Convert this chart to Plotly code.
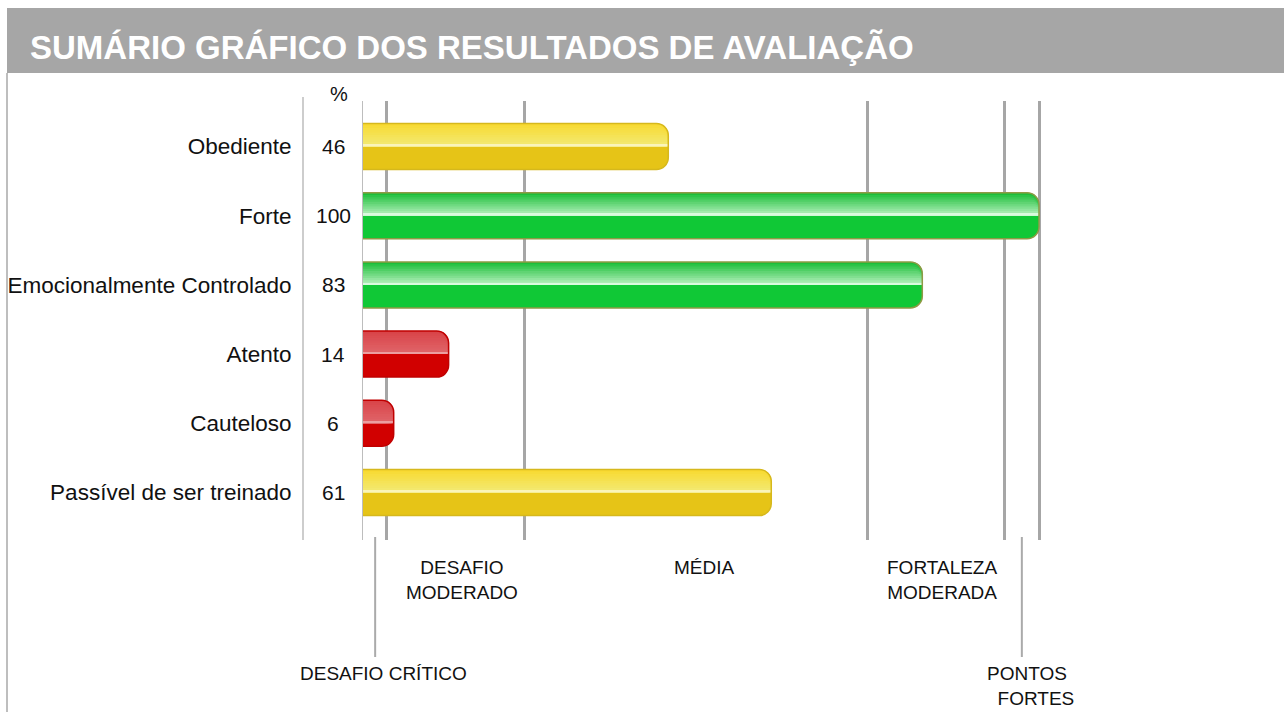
import plotly.graph_objects as go

# ---------------- data ----------------
categories = ["Obediente", "Forte", "Emocionalmente Controlado", "Atento",
              "Cauteloso", "Passível de ser treinado"]
scores = [46, 100, 83, 14, 6, 61]
band_edges = [5, 25, 75, 95, 100]
band_labels = ["DESAFIO CRÍTICO", "DESAFIO<br>MODERADO", "MÉDIA",
               "FORTALEZA<br>MODERADA", "PONTOS<br>\u00a0\u00a0FORTES"]
title_text = "SUMÁRIO GRÁFICO DOS RESULTADOS DE AVALIAÇÃO"

# ---------------- layout constants ----------------
W_PX, H_PX = 1284, 712
L, R, T, B = 363, 1044, 101, 540          # plot area in pixels
X0_PX, X_SCALE = 352.5, 6.865             # pixel of value 0, px per unit
x_range = [(L - X0_PX) / X_SCALE, (R - X0_PX) / X_SCALE]
y_range = [5.686, -0.657]

def px_x(p):
    return (p - L) / (R - L)

def px_y(p):
    return (B - p) / (B - T)

FONT = "Arial, Liberation Sans, sans-serif"

palette = {
    "red":    dict(base="#D10000", top="#D94449", mid="#E0666A",
                   hl="#EC9EA0", line="#C00000"),
    "yellow": dict(base="#E6C417", top="#F8DA32", mid="#F2EA74",
                   hl="#FAF4BA", line="#D6B81C"),
    "green":  dict(base="#10C836", top="#1CBE39", mid="#B4F0BC",
                   hl="#DAFADE", line="#8E9A44"),
}

def group(v):
    if v < band_edges[1]:
        return "red"
    if v < band_edges[2]:
        return "yellow"
    return "green"

def mix(c1, c2, t):
    a = [int(c1[i:i + 2], 16) for i in (1, 3, 5)]
    b = [int(c2[i:i + 2], 16) for i in (1, 3, 5)]
    return "#" + "".join("%02X" % round(a[k] + (b[k] - a[k]) * t) for k in range(3))

groups = [group(v) for v in scores]

Wd = 0.665
N_STEPS = 10

fig = go.Figure()
# base (bottom colour, full height)
fig.add_trace(go.Bar(
    x=scores, y=categories, orientation="h",
    offset=-Wd / 2, width=Wd,
    marker=dict(color=[palette[g]["base"] for g in groups],
                line=dict(width=0), cornerradius=12),
    hovertemplate="%{y}: %{x}<extra></extra>", showlegend=False,
))
# gradient bands in the upper half
for k in range(N_STEPS, 0, -1):
    t = (N_STEPS - k) / (N_STEPS - 1)
    h = (Wd / 2) * k / N_STEPS
    fig.add_trace(go.Bar(
        x=scores, y=categories, orientation="h",
        offset=-h, width=h,
        marker=dict(color=[mix(palette[g]["top"], palette[g]["mid"], t) for g in groups],
                    line=dict(width=0), cornerradius=12),
        hoverinfo="skip", showlegend=False,
    ))
# highlight line at the middle
fig.add_trace(go.Bar(
    x=scores, y=categories, orientation="h",
    offset=-Wd * 0.04, width=Wd * 0.04,
    marker=dict(color=[palette[g]["hl"] for g in groups],
                line=dict(width=0), cornerradius=12),
    hoverinfo="skip", showlegend=False,
))
# outline
fig.add_trace(go.Bar(
    x=scores, y=categories, orientation="h",
    offset=-Wd / 2, width=Wd,
    marker=dict(color="rgba(0,0,0,0)",
                line=dict(width=1.5, color=[palette[g]["line"] for g in groups]),
                cornerradius=12),
    hoverinfo="skip", showlegend=False,
))

shapes = [
    # header band
    dict(type="rect", xref="paper", yref="paper",
         x0=px_x(7), x1=px_x(1290), y0=px_y(73), y1=px_y(8),
         fillcolor="#A6A6A6", line=dict(width=0), layer="below"),
    # left frame line
    dict(type="line", xref="paper", yref="paper",
         x0=px_x(7), x1=px_x(7), y0=px_y(73), y1=px_y(715),
         line=dict(color="#BEBEBE", width=2)),
    # separator between labels and numbers
    dict(type="line", xref="paper", yref="paper",
         x0=px_x(303), x1=px_x(303), y0=px_y(97), y1=px_y(540),
         line=dict(color="#BDBDBD", width=1.5)),
    # pointers
    dict(type="line", xref="x", yref="paper", x0=3.3, x1=3.3,
         y0=px_y(537), y1=px_y(657), line=dict(color="#AAAAAA", width=2)),
    dict(type="line", xref="x", yref="paper", x0=97.5, x1=97.5,
         y0=px_y(537), y1=px_y(657), line=dict(color="#AAAAAA", width=2)),
]

annotations = []
# values column
for c, v in zip(categories, scores):
    annotations.append(dict(xref="paper", yref="y", x=px_x(333), y=c,
                            text=str(v), showarrow=False, xanchor="center",
                            yanchor="middle",
                            font=dict(family=FONT, size=21, color="#111111")))
annotations.append(dict(xref="paper", yref="paper", x=px_x(339), y=px_y(94),
                        text="%", showarrow=False, xanchor="center",
                        yanchor="middle",
                        font=dict(family=FONT, size=20, color="#111111")))
# band labels
label_pos = [(4.5, 673, "middle", "center", "center"),
             (16.0, 555, "top", "center", "center"),
             (51.3, 555, "top", "center", "center"),
             (85.9, 555, "top", "center", "center"),
             ((985 - X0_PX) / X_SCALE, 661, "top", "left", "left")]
for txt, (xv, yp, ya, xa, al) in zip(band_labels, label_pos):
    annotations.append(dict(xref="x", yref="paper", x=xv, y=px_y(yp),
                            text=txt, showarrow=False, xanchor=xa, yanchor=ya,
                            align=al,
                            font=dict(family=FONT, size=19, color="#111111")))

fig.update_layout(
    width=W_PX, height=H_PX,
    margin=dict(l=L, r=W_PX - R, t=T, b=H_PX - B, autoexpand=False),
    paper_bgcolor="white", plot_bgcolor="white",
    barmode="overlay",
    title=dict(text="<b>" + title_text + "</b>", x=30 / W_PX, xref="container",
               xanchor="left", y=1 - 47 / H_PX, yref="container",
               yanchor="middle",
               font=dict(family=FONT, size=33, color="white")),
    xaxis=dict(range=x_range, tickvals=band_edges, showticklabels=False,
               showgrid=True, gridcolor="#A6A6A6", gridwidth=3,
               zeroline=False, showline=False, ticks="", automargin=False),
    yaxis=dict(range=y_range, type="category", showgrid=False,
               showline=True, linecolor="#BDBDBD", linewidth=1,
               ticks="", ticklabelstandoff=66, automargin=False,
               tickfont=dict(family=FONT, size=22.5, color="#111111")),
    shapes=shapes, annotations=annotations,
    showlegend=False,
)

fig.write_html("out.html", config={"displayModeBar": False},
               post_script="document.body.style.margin='0';document.body.style.overflow='hidden';")
